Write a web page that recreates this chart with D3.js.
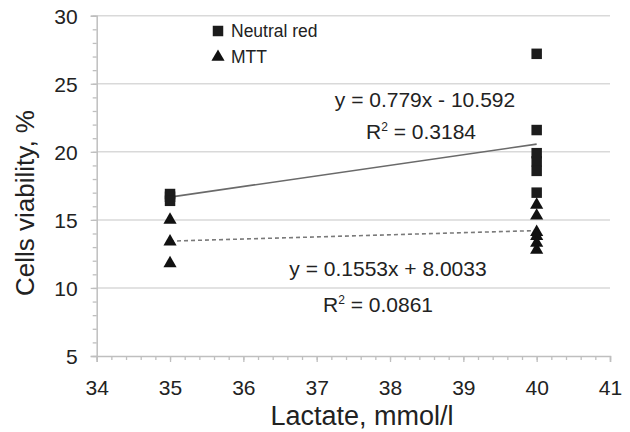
<!DOCTYPE html>
<html>
<head>
<meta charset="utf-8">
<script src="https://cdn.jsdelivr.net/npm/d3@7"></script>
<style>
  html, body { margin: 0; padding: 0; background: #fff; }
  svg { display: block; font-family: "Liberation Sans", Arial, sans-serif; }
</style>
</head>
<body>
<svg id="chart" width="630" height="432"></svg>
<script>
// ---- data ----
const xTickValues = [34, 35, 36, 37, 38, 39, 40, 41];
const yTickValues = [5, 10, 15, 20, 25, 30];
const neutralRedX = [35, 35, 35, 40, 40, 40, 40, 40, 40];
const neutralRedY = [16.9, 16.7, 16.4, 27.2, 21.6, 19.9, 19.3, 18.6, 17.0];
const mttX = [35, 35, 35, 40, 40, 40, 40, 40, 40];
const mttY = [15.0, 13.4, 11.8, 16.1, 15.3, 14.1, 13.8, 13.3, 12.8];
const seriesNames = ["Neutral red", "MTT"];
const trendSlopes = [0.779, 0.1553];
const trendIntercepts = [-10.592, 8.0033];
const trendRange = [35, 40];
const equationLabels = ["y = 0.779x - 10.592", "y = 0.1553x + 8.0033"];
const r2Values = ["0.3184", "0.0861"];
const xTitle = "Lactate, mmol/l";
const yTitle = "Cells viability, %";

// ---- layout ----
const svg = d3.select("#chart");
const x = d3.scaleLinear().domain([34, 41]).range([96.7, 610]);
const y = d3.scaleLinear().domain([5, 30]).range([356, 15.7]);
const textColor = "#222";

// gridlines
svg.append("g").selectAll("line").data(yTickValues.filter(v => v > 5)).join("line")
  .attr("x1", x(34)).attr("x2", x(41))
  .attr("y1", d => y(d)).attr("y2", d => y(d))
  .attr("stroke", "#d9d9d9").attr("stroke-width", 1.5);

// minor ticks
const xMinor = d3.range(34, 41.001, 0.2).map(v => +v.toFixed(1));
const yMinor = d3.range(5, 30.001, 1);
const xAxisMinor = d3.axisBottom(x).tickValues(xMinor).tickSize(4).tickFormat("");
const yAxisMinor = d3.axisLeft(y).tickValues(yMinor).tickSize(4).tickFormat("");
const gxm = svg.append("g").attr("transform", `translate(0,${y(5)})`).call(xAxisMinor);
const gym = svg.append("g").attr("transform", `translate(${x(34)},0)`).call(yAxisMinor);
[gxm, gym].forEach(g => {
  g.select(".domain").remove();
  g.selectAll("line").attr("stroke", "#bfbfbf").attr("stroke-width", 1.3);
});

// major axes
const xAxis = d3.axisBottom(x).tickValues(xTickValues).tickSize(6).tickPadding(20).tickFormat(d3.format("d"));
const yAxis = d3.axisLeft(y).tickValues(yTickValues).tickSize(6).tickPadding(13).tickFormat(d3.format("d"));
const gx = svg.append("g").attr("transform", `translate(0,${y(5)})`).call(xAxis);
const gy = svg.append("g").attr("transform", `translate(${x(34)},0)`).call(yAxis);
[gx, gy].forEach(g => {
  g.select(".domain").attr("stroke", "#bfbfbf").attr("stroke-width", 1.5);
  g.selectAll(".tick line").attr("stroke", "#bfbfbf").attr("stroke-width", 1.3);
  g.selectAll("text").attr("fill", textColor).attr("font-size", 21)
    .attr("font-family", "Liberation Sans, Arial, sans-serif");
});
gx.selectAll("text").attr("dy", "0.6em");
gy.selectAll("text").attr("dy", "0.36em");

// axis titles
svg.append("text").attr("x", 362).attr("y", 425).attr("text-anchor", "middle")
  .attr("font-size", 27).attr("fill", textColor).text(xTitle);
svg.append("text").attr("transform", "translate(34,203) rotate(-90)")
  .attr("text-anchor", "middle").attr("font-size", 26).attr("fill", textColor).text(yTitle);

// trend lines
const trendStyles = [{ dash: null, color: "#6a6a6a" }, { dash: "4,3", color: "#7a7a7a" }];
trendSlopes.forEach((m, i) => {
  const b = trendIntercepts[i];
  const ln = svg.append("line")
    .attr("x1", x(trendRange[0])).attr("y1", y(m * trendRange[0] + b))
    .attr("x2", x(trendRange[1])).attr("y2", y(m * trendRange[1] + b))
    .attr("stroke", trendStyles[i].color).attr("stroke-width", 1.6);
  if (trendStyles[i].dash) ln.attr("stroke-dasharray", trendStyles[i].dash);
});

// markers
const sq = d3.symbol().type(d3.symbolSquare).size(110);
const tri = d3.symbol().type(d3.symbolTriangle).size(75);
svg.append("g").selectAll("path").data(neutralRedY).join("path")
  .attr("d", sq).attr("fill", "#1c1c1c")
  .attr("transform", (d, i) => `translate(${x(neutralRedX[i])},${y(d)})`);
svg.append("g").selectAll("path").data(mttY).join("path")
  .attr("d", tri).attr("fill", "#111")
  .attr("transform", (d, i) => `translate(${x(mttX[i])},${y(d)})`);

// legend
const legend = svg.append("g");
legend.append("path").attr("d", sq).attr("fill", "#1c1c1c").attr("transform", "translate(218,31)");
legend.append("path").attr("d", tri).attr("fill", "#111").attr("transform", "translate(218,57)");
legend.append("text").attr("x", 231).attr("y", 37).attr("font-size", 17.5).attr("fill", textColor).text(seriesNames[0]);
legend.append("text").attr("x", 231).attr("y", 63).attr("font-size", 17.5).attr("fill", textColor).text(seriesNames[1]);

// equations
function r2Text(sel, v) {
  sel.append("tspan").text("R");
  sel.append("tspan").attr("font-size", 12).attr("dy", -8).text("2");
  sel.append("tspan").attr("dy", 8).text(" = " + v);
}
svg.append("text").attr("x", 425).attr("y", 107).attr("text-anchor", "middle")
  .attr("font-size", 21).attr("fill", textColor).text(equationLabels[0]);
svg.append("text").attr("x", 421).attr("y", 139).attr("text-anchor", "middle")
  .attr("font-size", 21).attr("fill", textColor).call(r2Text, r2Values[0]);
svg.append("text").attr("x", 388).attr("y", 276).attr("text-anchor", "middle")
  .attr("font-size", 21).attr("fill", textColor).text(equationLabels[1]);
svg.append("text").attr("x", 378).attr("y", 312).attr("text-anchor", "middle")
  .attr("font-size", 21).attr("fill", textColor).call(r2Text, r2Values[1]);
</script>
</body>
</html>
